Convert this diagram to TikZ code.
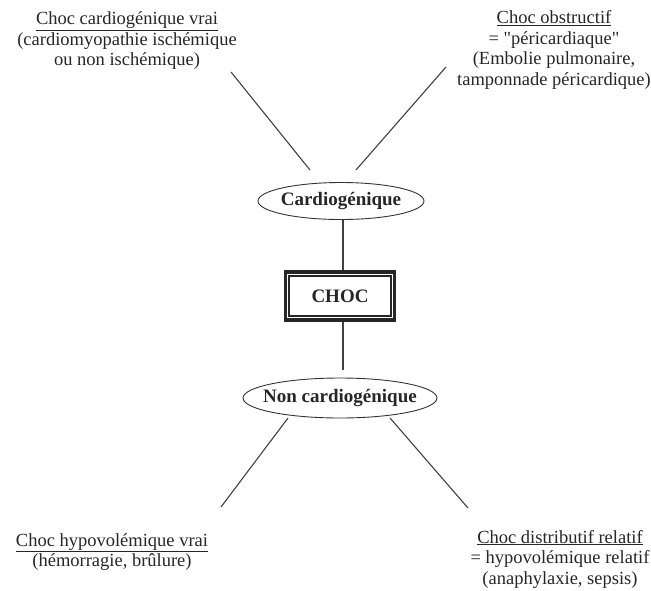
\documentclass[tikz,border=0pt]{standalone}
\usepackage{fontspec}
\setmainfont{Liberation Serif}
\newfontfamily\qfont{Liberation Serif}
\usetikzlibrary{shapes.geometric,calc}
\tikzset{
  txt/.style={align=center,inner sep=0pt,font=\fontsize{18.5}{20.5}\selectfont,text=black!85},
  ell/.style={ellipse,draw=black!80,line width=0.9pt,inner sep=0pt},
  elltxt/.style={font=\fontsize{19}{21}\selectfont\bfseries,text=black!85},
  conn/.style={draw=black!75,line width=1.1pt}
}
\begin{document}
\begin{tikzpicture}[x=1pt,y=-1pt]
\useasboundingbox (0,0) rectangle (651,590);
% texts
\node[txt] (tl) at (127,41) {\underline{Choc cardiogénique vrai}\\(cardiomyopathie ischémique\\ou non ischémique)};
\node[txt] (tr) at (554,50) {\underline{Choc obstructif}\\= {\qfont "}péricardiaque{\qfont "}\\(Embolie pulmonaire,\\tamponnade péricardique)};
\node[txt] (bl) at (112,552) {\underline{Choc hypovolémique vrai}\\(hémorragie, brûlure)};
\node[txt] (br) at (560,559) {\underline{Choc distributif relatif}\\= hypovolémique relatif\\(anaphylaxie, sepsis)};
% central nodes
\node[ell,minimum width=166,minimum height=37,label={[elltxt]center:Cardiogénique}] (card) at (341,201) {};
\node[ell,minimum width=194,minimum height=40,label={[elltxt]center:Non cardiogénique}] (nc) at (340,398) {};
\node[draw=black!85,line width=3.5pt,minimum width=109,minimum height=48,inner sep=0pt,
      font=\fontsize{19}{21}\selectfont\bfseries,text=black!85] (choc) at (340,296) {CHOC};
\draw[black!85,line width=1.6pt] ($(choc.north west)+(5.5,5.5)$) rectangle ($(choc.south east)+(-5.5,-5.5)$);
% connector ends
\coordinate (a1) at (231,72);  \coordinate (a2) at (310,170);
\coordinate (b1) at (446,67);  \coordinate (b2) at (356,170);
\coordinate (c1) at (288,418); \coordinate (c2) at (221,507);
\coordinate (d1) at (390,418); \coordinate (d2) at (468,508);
\draw[conn] (a1) -- (a2);
\draw[conn] (b1) -- (b2);
\draw[conn] (c1) -- (c2);
\draw[conn] (d1) -- (d2);
\draw[conn] ($(card.south)+(2,0)$) -- ($(choc.north)+(3,0)$);
\draw[conn,shorten >=8pt] ($(choc.south)+(3,0)$) -- ($(nc.north)+(3,0)$);
\end{tikzpicture}
\end{document}
